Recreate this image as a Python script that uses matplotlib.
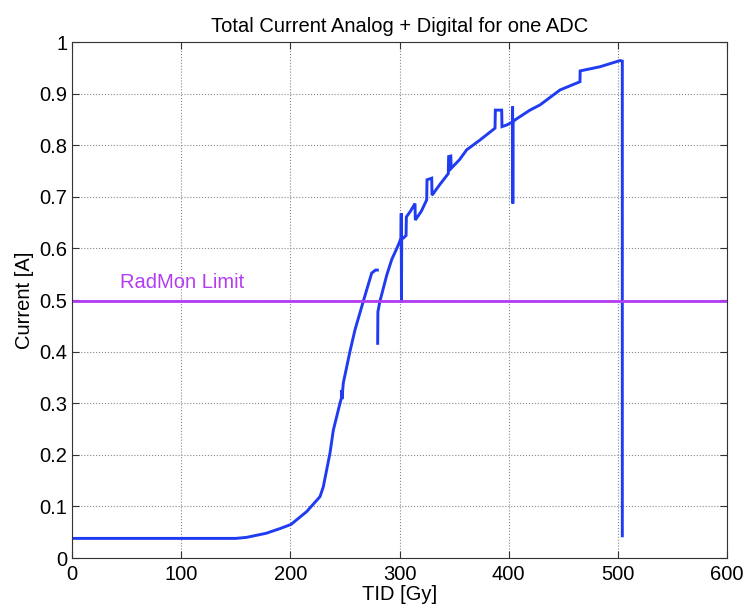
#!/usr/bin/env python3
"""Total current (analog + digital) of one ADC versus TID."""

import matplotlib

matplotlib.use("Agg")
import matplotlib.pyplot as plt

# first branch: flat baseline, then the steep rise up to ~280 Gy
seg1_tid = [0, 100, 150, 160, 178, 190.5, 200.6, 215, 227.2, 230.2, 236.3, 239.4,
            245.5, 246.8, 247.1, 247.3, 248.5, 254.6, 259.2, 266.9, 274.5, 278.0, 279.7]
seg1_cur = [0.038, 0.038, 0.038, 0.040, 0.048, 0.057, 0.065, 0.090, 0.119, 0.138, 0.203, 0.248,
            0.300, 0.310, 0.325, 0.308, 0.339, 0.400, 0.442, 0.498, 0.552, 0.558, 0.558]

# second branch: restart at 280 Gy with steps and spikes, drop at ~504 Gy
seg2_tid = [280.0, 280.2, 282.0, 288.3, 292.8, 299.0, 301.4, 301.6, 301.8, 302.0, 303.5,
            306.0, 306.3, 310.0, 314.2, 314.5, 320.0, 324.9, 325.2, 329.5, 329.8, 337.0,
            344.7, 345.0, 347.0, 347.3, 355.0, 361.5, 373.7, 387.5, 387.8, 393.6, 393.9,
            398.0, 403.5, 403.6, 403.8, 404.0, 405.8, 419.5, 428.7, 447.0, 465.3, 465.5,
            483.6, 502.0, 504.1, 504.1]
seg2_cur = [0.416, 0.477, 0.497, 0.548, 0.578, 0.607, 0.620, 0.668, 0.495, 0.620, 0.620,
            0.625, 0.661, 0.672, 0.687, 0.655, 0.672, 0.694, 0.733, 0.736, 0.703, 0.724,
            0.745, 0.778, 0.779, 0.755, 0.772, 0.791, 0.810, 0.833, 0.868, 0.868, 0.836,
            0.839, 0.845, 0.875, 0.687, 0.845, 0.849, 0.868, 0.878, 0.907, 0.923, 0.944,
            0.952, 0.964, 0.963, 0.043]

radmon_limit = 0.498
limit_label = "RadMon Limit"

x_ticks = [0, 100, 200, 300, 400, 500, 600]
y_ticks = [0, 0.1, 0.2, 0.3, 0.4, 0.5, 0.6, 0.7, 0.8, 0.9, 1]
y_tick_labels = ["0", "0.1", "0.2", "0.3", "0.4", "0.5", "0.6", "0.7", "0.8", "0.9", "1"]

BLUE = "#1f3cf2"
PURPLE = "#b43cf2"
FS = 14.5


def main():
    plt.rcParams["font.family"] = ["Liberation Sans", "DejaVu Sans"]
    fig = plt.figure(figsize=(7.46, 6.09), dpi=100)
    ax = fig.add_axes([72 / 746, 1 - 558 / 609, 655 / 746, 516 / 609])

    ax.plot(seg1_tid, seg1_cur, color=BLUE, lw=2.1, solid_joinstyle="miter")
    ax.plot(seg2_tid, seg2_cur, color=BLUE, lw=2.1, solid_joinstyle="miter")
    ax.axhline(radmon_limit, color=PURPLE, lw=2.0)
    ax.text(101, 0.533, limit_label, color=PURPLE, fontsize=FS, ha="center", va="center")

    ax.set_xlim(0, 600)
    ax.set_ylim(0, 1)
    ax.set_xticks(x_ticks)
    ax.set_yticks(y_ticks)
    ax.set_yticklabels(y_tick_labels)
    ax.tick_params(direction="in", top=True, right=True, length=5, labelsize=FS, color="#333333")
    ax.tick_params(axis="x", pad=5)
    ax.grid(True, linestyle=":", color="#888888", lw=0.8)
    for spine in ax.spines.values():
        spine.set_color("#333333")
        spine.set_linewidth(0.8)

    ax.set_xlabel("TID [Gy]", fontsize=FS, labelpad=1)
    ax.set_ylabel("Current [A]", fontsize=FS, labelpad=4)
    ax.set_title("Total Current Analog + Digital for one ADC", fontsize=FS, pad=7)

    fig.savefig("out.png", dpi=100)
    plt.close(fig)


if __name__ == "__main__":
    main()
